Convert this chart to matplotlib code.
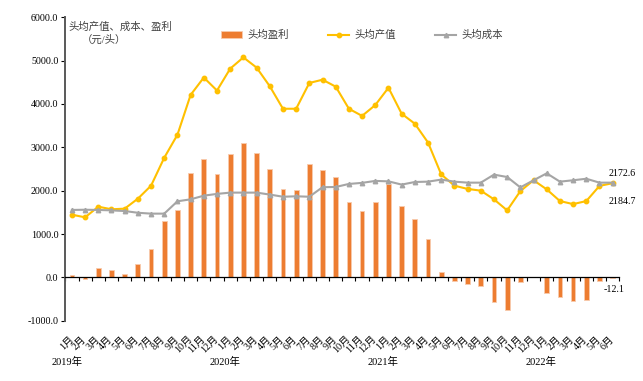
import numpy as np
import matplotlib
matplotlib.use("Agg")
import matplotlib.pyplot as plt
import matplotlib.transforms as mtransforms
from matplotlib.ticker import FuncFormatter

# ── Palette ──────────────────────────────────────────────────────────────────
C_PROFIT = "#ED7D31"
C_VALUE  = "#FFC000"
C_COST   = "#A5A5A5"
C_TEXT   = "#404040"

FONTS = ["Liberation Serif", "Noto Sans CJK SC", "DejaVu Sans"]
plt.rcParams["font.family"] = FONTS

# ── Data (元/头) ─────────────────────────────────────────────────────────────
months = [f"{m}月" for m in range(1, 13)] * 3 + [f"{m}月" for m in range(1, 7)]
years = ["2019年", "2020年", "2021年", "2022年"]

profit = [50, -40, 210, 180, 85, 300, 645, 1300, 1545, 2410, 2720, 2385,
          2855, 3110, 2870, 2500, 2030, 2025, 2615, 2480, 2315, 1730, 1530, 1730,
          2160, 1640, 1340, 880, 115, -90, -145, -200, -575, -760, -100, 0,
          -370, -445, -545, -525, -85, -12.1]

value = [1445, 1385, 1630, 1570, 1585, 1815, 2115, 2760, 3290, 4210, 4610, 4310,
         4815, 5075, 4840, 4410, 3890, 3890, 4485, 4560, 4400, 3890, 3725, 3975,
         4375, 3775, 3545, 3110, 2375, 2115, 2040, 2000, 1800, 1545, 1990, 2240,
         2030, 1760, 1690, 1760, 2110, 2172.6]

cost = [1555, 1560, 1555, 1545, 1530, 1490, 1470, 1470, 1755, 1800, 1885, 1925,
        1955, 1955, 1955, 1910, 1860, 1870, 1860, 2080, 2085, 2155, 2180, 2225,
        2215, 2140, 2200, 2208, 2255, 2208, 2185, 2185, 2370, 2315, 2075, 2240,
        2400, 2208, 2240, 2275, 2185, 2184.7]

x = np.arange(len(months))

fig = plt.figure(figsize=(6.43, 3.81), dpi=100)
ax = fig.add_axes([0.1016, 0.1583, 0.8615, 0.7963])

h_bar = ax.bar(x, profit, width=0.36, color=C_PROFIT, edgecolor="#F8CBAD", lw=0.6,
               label="头均盈利", zorder=2)
h_val, = ax.plot(x, value, color=C_VALUE, lw=1.5, marker="o", ms=3.2,
                 label="头均产值", zorder=3)
h_cost, = ax.plot(x, cost, color=C_COST, lw=1.5, marker="^", ms=3.2,
                  label="头均成本", zorder=3)

ax.set_xlim(-0.5, len(months) - 0.5)
ax.set_ylim(-1000, 6000)
ax.set_yticks(np.arange(-1000, 6001, 1000))
ax.yaxis.set_major_formatter(FuncFormatter(lambda v, p: f"{v:.1f}"))
ax.tick_params(axis="y", direction="out", length=3, width=0.8, labelsize=7.2,
               colors="black", pad=2)

for s in ["top", "right"]:
    ax.spines[s].set_visible(False)
ax.spines["left"].set_color("#595959")
ax.spines["left"].set_linewidth(1.4)
ax.spines["bottom"].set_position(("data", 0))
ax.spines["bottom"].set_color("black")
ax.spines["bottom"].set_linewidth(0.9)

# category boundary ticks on the zero line, labels drawn at the bottom
ax.set_xticks(np.arange(-0.5, len(months), 1.0))
ax.set_xticklabels([])
ax.tick_params(axis="x", direction="out", length=3, width=0.8, colors="black")

trans = mtransforms.blended_transform_factory(ax.transData, ax.transAxes)
for i, lab in enumerate(months):
    ax.text(i - 0.25, -0.045, lab, transform=trans, rotation=45, ha="right",
            va="top", rotation_mode="anchor", fontsize=7.2, color="black")
for k, yr in enumerate(years):
    ax.text(12 * k - 0.4, -0.135, yr, transform=trans, ha="center", va="center",
            fontsize=7.5, color="black")

# unit label inside the plot
ax.text(0.006, 0.968, "头均产值、成本、盈利", transform=ax.transAxes, ha="left",
        va="center", fontsize=7.5, color=C_TEXT)
ax.text(0.03, 0.925, "（元/头）", transform=ax.transAxes, ha="left",
        va="center", fontsize=7.5, color=C_TEXT)

# end-value labels
ax.text(40.7, 2172.6 + 215, "2172.6", ha="left", va="center",
        fontsize=7.2, color="black", clip_on=False)
ax.text(40.7, 2184.7 - 425, "2184.7", ha="left", va="center",
        fontsize=7.2, color="black", clip_on=False)
ax.text(40.3, -12.1 - 260, "-12.1", ha="left", va="center",
        fontsize=7.2, color="black", clip_on=False)

leg = ax.legend([h_bar, h_val, h_cost], ["头均盈利", "头均产值", "头均成本"],
                loc="center", bbox_to_anchor=(0.563, 0.908),
                bbox_transform=fig.transFigure, ncol=3, frameon=False,
                fontsize=7.5, handlelength=2.0, handletextpad=0.5,
                columnspacing=3.8, handleheight=0.7)
for t in leg.get_texts():
    t.set_color(C_TEXT)

fig.savefig("out.png", dpi=100)
